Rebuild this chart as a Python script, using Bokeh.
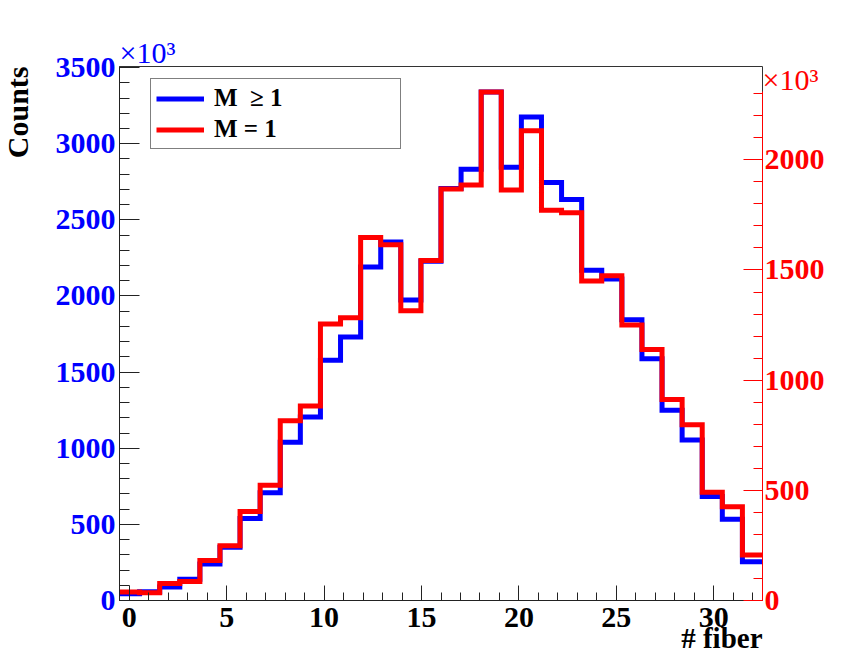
import numpy as np
from bokeh.plotting import figure
from bokeh.models import Range1d, LinearAxis, SingleIntervalTicker, Label, Legend, LegendItem, Title
from bokeh.embed import file_html
from bokeh.resources import INLINE

# ---------------- data ----------------
n_bins = 32
x_lo, x_hi = -0.5, 32.5
# counts (x10^3) per bin, M >= 1 (left, blue axis)
m_ge1 = [45, 57, 89, 140, 239, 350, 539, 707, 1040, 1205,
         1578, 1731, 2191, 2354, 1974, 2228, 2706, 2833, 3340, 2846,
         3176, 2746, 2633, 2169, 2111, 1844, 1587, 1250, 1054, 683,
         533, 254]
# counts (x10^3) per bin, M = 1 (right, red axis)
m_eq1 = [39, 35, 77, 86, 182, 248, 404, 523, 816, 883,
         1255, 1283, 1647, 1615, 1315, 1543, 1868, 1886, 2308, 1863,
         2132, 1771, 1760, 1450, 1474, 1250, 1139, 912, 798, 491,
         425, 207]
legend_labels = ["M\u00a0\u00a0\u2265 1", "M = 1"]
x_title = "# fiber"
y_title = "Counts"
exp_text = "\u00d710\u00b3"
blue = "#0000ff"
red = "#ff0000"
FONT = "Liberation Serif"

edges = np.linspace(x_lo, x_hi, n_bins + 1)
left_max = 1.05 * max(m_ge1)
right_max = 1.05 * max(m_eq1)

p = figure(width=831, height=656, output_backend="svg", toolbar_location=None,
           x_range=Range1d(x_lo, x_hi), y_range=Range1d(0, left_max),
           min_border_left=119, min_border_right=69, min_border_top=66, min_border_bottom=56,
           title=None)
p.extra_y_ranges = {"right": Range1d(0, right_max)}
p.xgrid.visible = False
p.ygrid.visible = False
p.outline_line_color = "#333333"
p.outline_line_width = 1
p.background_fill_color = "white"
p.border_fill_color = "white"

# histograms
r_blue = p.step(x=edges, y=m_ge1 + [m_ge1[-1]], mode="after", line_color=blue,
                line_width=5, line_join="miter")
r_red = p.step(x=edges, y=m_eq1 + [m_eq1[-1]], mode="after", line_color=red,
               line_width=5, line_join="miter", y_range_name="right")

# x axis
xa = p.xaxis[0]
xa.ticker = SingleIntervalTicker(interval=5, num_minor_ticks=5)
xa.axis_line_color = "#222222"
xa.major_tick_line_color = "#222222"
xa.minor_tick_line_color = "#222222"
xa.major_tick_in = 15
xa.major_tick_out = 0
xa.minor_tick_in = 8
xa.minor_tick_out = 0
xa.major_label_standoff = 7
xa.major_label_text_font = FONT
xa.major_label_text_font_style = "bold"
xa.major_label_text_font_size = "30px"
xa.major_label_text_color = "black"

# x title, right-aligned under the frame
p.add_layout(Title(text=x_title, align="right", vertical_align="top", standoff=-16,
                   text_font=FONT, text_font_style="bold", text_font_size="29px",
                   text_color="black"), "below")

# left axis
ya = p.yaxis[0]
ya.ticker = SingleIntervalTicker(interval=500, num_minor_ticks=5)
ya.axis_line_color = "#222222"
ya.major_tick_line_color = "#222222"
ya.minor_tick_line_color = "#222222"
ya.major_tick_in = 20
ya.major_tick_out = 0
ya.minor_tick_in = 10
ya.minor_tick_out = 0
ya.major_label_standoff = 4
ya.major_label_text_font = FONT
ya.major_label_text_font_style = "bold"
ya.major_label_text_font_size = "30px"
ya.major_label_text_color = blue

# y title (placed in the left border, so it is not clipped by the frame)
p.add_layout(Label(x=x_lo, y=left_max, x_offset=-102, y_offset=0, text=y_title,
                   angle=90, angle_units="deg", text_align="right", text_baseline="alphabetic",
                   text_font=FONT, text_font_style="bold", text_font_size="30px",
                   text_color="black"), "left")

# right axis
ra = LinearAxis(y_range_name="right",
                ticker=SingleIntervalTicker(interval=500, num_minor_ticks=5),
                bounds=(0, max(m_eq1)))
ra.axis_line_color = red
ra.major_tick_line_color = red
ra.minor_tick_line_color = red
ra.major_tick_in = 19
ra.major_tick_out = 0
ra.minor_tick_in = 9
ra.minor_tick_out = 0
ra.major_label_standoff = 2
ra.major_label_text_font = FONT
ra.major_label_text_font_style = "bold"
ra.major_label_text_font_size = "30px"
ra.major_label_text_color = red
p.add_layout(ra, "right")

# exponent labels
p.add_layout(Title(text=exp_text, align="left", vertical_align="bottom", standoff=-4,
                   text_font=FONT, text_font_style="normal", text_font_size="30px",
                   text_color=blue), "above")
p.add_layout(Label(x=x_hi, y=left_max, x_offset=0, y_offset=-13, text=exp_text,
                   text_align="left", text_baseline="alphabetic",
                   text_font=FONT, text_font_size="30px", text_color=red), "above")

# legend
legend = Legend(items=[LegendItem(label=legend_labels[0], renderers=[r_blue]),
                       LegendItem(label=legend_labels[1], renderers=[r_red])],
                location=(31, 451), padding=5, spacing=3, margin=0,
                glyph_width=48, glyph_height=27, label_height=27, label_width=181,
                label_standoff=10,
                label_text_font=FONT, label_text_font_style="bold",
                label_text_font_size="25px", label_text_color="black",
                border_line_color="black", border_line_width=1.5,
                background_fill_color="white", background_fill_alpha=1.0)
p.add_layout(legend, "center")

open("out.html", "w").write(file_html(p, INLINE))
